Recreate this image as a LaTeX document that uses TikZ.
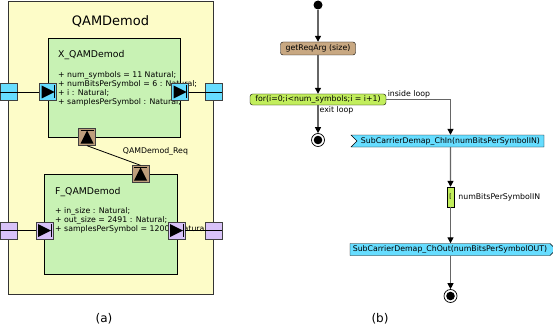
\documentclass[tikz,border=0pt]{standalone}
\usepackage{fontspec}
\setmainfont{DejaVu Sans}
\usetikzlibrary{arrows.meta,shapes.symbols}

\definecolor{blockyellow}{HTML}{FDFCC8}
\definecolor{blockgreen}{HTML}{C8F2B4}
\definecolor{portcyan}{HTML}{66DDFF}
\definecolor{portpurple}{HTML}{D8C2F8}
\definecolor{portbrown}{HTML}{BE9E7C}
\definecolor{actbrown}{HTML}{C8A882}
\definecolor{loopgreen}{HTML}{C2EE5C}

\newcommand{\smallfont}{\fontsize{7.8}{9.2}\selectfont}

\begin{document}
\begin{tikzpicture}[x=1pt,y=-1pt,
	port/.style={draw=black!75,minimum width=17pt,minimum height=17pt,inner sep=0pt},
	rtri/.style={path picture={
		\fill[black] ([xshift=2pt,yshift=-2pt]path picture bounding box.north west) -- ([xshift=2pt,yshift=2pt]path picture bounding box.south west) -- ([xshift=-2pt]path picture bounding box.east) -- cycle;
		\draw[black,line width=1pt] ([xshift=-2pt,yshift=-2pt]path picture bounding box.north east) -- ([xshift=-2pt,yshift=2pt]path picture bounding box.south east);}},
	utri/.style={path picture={
		\fill[black] ([xshift=2pt,yshift=2pt]path picture bounding box.south west) -- ([xshift=-2pt,yshift=2pt]path picture bounding box.south east) -- ([yshift=-2pt]path picture bounding box.north) -- cycle;
		\draw[black,line width=1pt] ([xshift=2pt,yshift=-2pt]path picture bounding box.north west) -- ([xshift=-2pt,yshift=-2pt]path picture bounding box.north east);}},
	act/.style={draw,rounded corners=2.5pt,inner sep=0pt,font=\smallfont},
	sig/.style={draw,signal,fill=portcyan,inner sep=0pt,minimum height=12pt,font=\smallfont},
	flow/.style={draw=black!60,line width=1.2pt,-{Triangle[black,length=6pt,width=6pt]}},
	final/.style={circle,draw,line width=0.7pt,minimum size=13pt,inner sep=0pt,
		path picture={\fill[black] (path picture bounding box.center) circle (4.3pt);}}]
	\useasboundingbox (0,0) rectangle (553,334);

	% (a) blocks
	\node[draw=black!80,fill=blockyellow,minimum width=205pt,minimum height=293pt] (qam) at (110.5,147.5) {};
	\node[font=\fontsize{13}{15}\selectfont,anchor=base] (qamname) at (110.5,26) {QAMDemod};

	\node[draw,fill=blockgreen,minimum width=132pt,minimum height=99pt] (xbox) at (114,87.5) {};
	\node[font=\fontsize{9.3}{11}\selectfont,anchor=base west,inner sep=0pt] (xname) at (58,57.5) {X\_QAMDemod};
	\node[font=\smallfont,align=left,anchor=north west,inner sep=0pt] (xattr) at (58,71) {%
		+ num\_symbols = 11 Natural;\\
		+ numBitsPerSymbol = 6 : Natural;\\
		+ i : Natural;\\
		+ samplesPerSymbol : Natural;};

	\node[draw,fill=blockgreen,minimum width=133pt,minimum height=100pt] (fbox) at (110.5,224) {};
	\node[font=\fontsize{9.3}{11}\selectfont,anchor=base west,inner sep=0pt] (fname) at (55,194) {F\_QAMDemod};
	\node[font=\smallfont,align=left,anchor=north west,inner sep=0pt] (fattr) at (55,207) {%
		+ in\_size : Natural;\\
		+ out\_size = 2491 : Natural;\\
		+ samplesPerSymbol = 1200 : Natural;};

	% ports
	\node[port,fill=portcyan] (cinL) at (8.5,92) {};
	\node[port,fill=portcyan,rtri] (xin) at (48,92) {};
	\node[port,fill=portcyan,rtri] (xout) at (180,92) {};
	\node[port,fill=portcyan] (coutR) at (213.5,92) {};
	\node[port,fill=portbrown,utri] (xreq) at (87,137) {};
	\node[port,fill=portbrown,utri] (freq) at (140.5,174) {};
	\node[port,fill=portpurple] (pinL) at (8.5,230.5) {};
	\node[port,fill=portpurple,rtri] (fin) at (44.5,230.5) {};
	\node[port,fill=portpurple,rtri] (fout) at (176.5,230.5) {};
	\node[port,fill=portpurple] (poutR) at (213.5,230.5) {};

	\draw[line width=0.8pt] (cinL.west) -- (xin.west);
	\draw[line width=0.8pt] (xout.east) -- (coutR.east);
	\draw[line width=0.8pt] (pinL.west) -- (fin.west);
	\draw[line width=0.8pt] (fout.east) -- (poutR.east);
	\draw[line width=0.8pt] (xreq.south) -- (freq.north) node[pos=0.62,above right=-1pt,font=\smallfont] {QAMDemod\_Req};

	% (b) activity
	\node[circle,fill,minimum size=9pt,inner sep=0pt] (init) at (318,5) {};
	\node[act,fill=actbrown,minimum width=75pt,minimum height=13pt] (getreq) at (318,48.5) {getReqArg (size)};
	\node[act,fill=loopgreen,minimum width=136pt,minimum height=11pt] (loop) at (318,99.5) {for(i=0;i<num\_symbols;i = i+1)};
	\node[final] (stop1) at (318,140) {};
	\node[sig,signal from=west,signal to=nowhere,minimum width=193pt] (chin) at (450.5,141) {SubCarrierDemap\_ChIn(numBitsPerSymbolIN)};
	\node[draw,fill=loopgreen,minimum width=7pt,minimum height=20pt,inner sep=0pt,font=\fontsize{6}{7}\selectfont] (choice) at (450.5,197) {[};
	\node[sig,signal to=east,signal from=nowhere,minimum width=206pt] (chout) at (450,249.5) {SubCarrierDemap\_ChOut(numBitsPerSymbolOUT)};
	\node[final] (stop2) at (450.5,296) {};

	\path[flow] (init) -- (getreq);
	\path[flow] (getreq) -- (loop);
	\path[flow] (loop) -- (stop1) node[pos=0,anchor=north west,inner sep=1pt,font=\smallfont] {exit loop};
	\path[flow] (loop.east) -| (chin.north) node[pos=0,anchor=south west,inner sep=1pt,font=\smallfont] {inside loop};
	\path[flow] (chin) -- (choice);
	\node[anchor=west,font=\smallfont,inner sep=0pt] (guard) at ([xshift=4pt]choice.east) {numBitsPerSymbolIN};
	\path[flow] (choice) -- (chout.north -| choice);
	\path[flow] (chout.south -| stop2) -- (stop2);

	% captions
	\node[font=\fontsize{12}{14}\selectfont] (capa) at (104,319) {(a)};
	\node[font=\fontsize{12}{14}\selectfont] (capb) at (380,319) {(b)};
\end{tikzpicture}
\end{document}
